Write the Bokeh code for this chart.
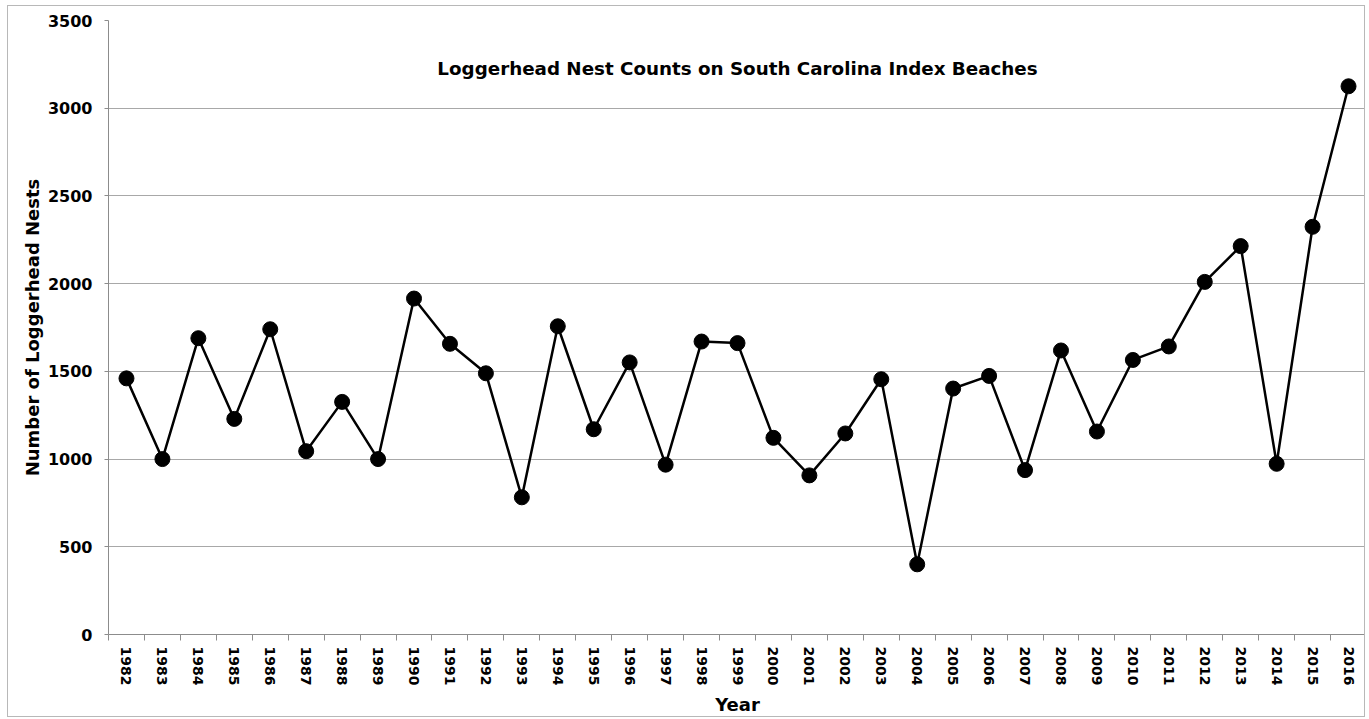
from bokeh.plotting import figure
from bokeh.models import Range1d, FixedTicker, Label, NumeralTickFormatter
from bokeh.embed import file_html
from bokeh.resources import INLINE

years = [1982, 1983, 1984, 1985, 1986, 1987, 1988, 1989, 1990, 1991, 1992, 1993,
         1994, 1995, 1996, 1997, 1998, 1999, 2000, 2001, 2002, 2003, 2004, 2005,
         2006, 2007, 2008, 2009, 2010, 2011, 2012, 2013, 2014, 2015, 2016]
nests = [1460, 1000, 1689, 1229, 1740, 1045, 1326, 1000, 1915, 1657, 1489, 782,
         1757, 1170, 1551, 968, 1670, 1661, 1121, 907, 1146, 1455, 400, 1402,
         1474, 937, 1619, 1157, 1565, 1642, 2010, 2214, 973, 2324, 3125]
y_ticks = [0, 500, 1000, 1500, 2000, 2500, 3000, 3500]

title_text = "Loggerhead Nest Counts on South Carolina Index Beaches"
x_title = "Year"
y_title = "Number of Loggerhead Nests"

FONT = "DejaVu Sans"
AXIS_COLOR = "#8c8c8c"
GRID_COLOR = "#a8a8a8"

p = figure(width=1358, height=712, output_backend="svg", toolbar_location=None,
           x_range=Range1d(years[0] - 0.5, years[-1] + 0.5),
           y_range=Range1d(y_ticks[0], y_ticks[-1]),
           min_border_left=100, min_border_right=0, min_border_top=14,
           min_border_bottom=82)
p.styles = {"border": "1px solid #b8b8b8", "margin-left": "7px", "margin-top": "5px"}
p.outline_line_color = None
p.background_fill_color = "white"
p.border_fill_color = "white"

# grids
p.xgrid.grid_line_color = None
p.ygrid.grid_line_color = GRID_COLOR
p.ygrid.grid_line_width = 1

# y axis
p.yaxis.ticker = FixedTicker(ticks=y_ticks)
p.yaxis.axis_line_color = AXIS_COLOR
p.yaxis.major_tick_line_color = AXIS_COLOR
p.yaxis.major_tick_out = 4
p.yaxis.major_tick_in = 0
p.yaxis.minor_tick_line_color = None
p.yaxis.major_label_standoff = 12
p.yaxis.major_label_text_font = FONT
p.yaxis.major_label_text_font_style = "bold"
p.yaxis.major_label_text_font_size = "16px"
p.yaxis.major_label_text_color = "black"
p.yaxis.axis_label = y_title
p.yaxis.axis_label_text_font = FONT
p.yaxis.axis_label_text_font_style = "bold"
p.yaxis.axis_label_text_font_size = "18px"
p.yaxis.axis_label_text_color = "black"
p.yaxis.axis_label_standoff = 2

# x axis: labels at years, ticks between years
boundaries = [y - 0.5 for y in years] + [years[-1] + 0.5]
p.xaxis.ticker = FixedTicker(ticks=years, minor_ticks=boundaries)
p.xaxis.formatter = NumeralTickFormatter(format="0")
p.xaxis.axis_line_color = AXIS_COLOR
p.xaxis.major_tick_line_color = None
p.xaxis.major_tick_out = 0
p.xaxis.major_tick_in = 0
p.xaxis.minor_tick_line_color = AXIS_COLOR
p.xaxis.minor_tick_out = 6
p.xaxis.minor_tick_in = 0
p.xaxis.major_label_orientation = "vertical"
p.xaxis.major_label_standoff = 6
p.xaxis.major_label_text_font = FONT
p.xaxis.major_label_text_font_style = "bold"
p.xaxis.major_label_text_font_size = "14px"
p.xaxis.major_label_text_color = "black"
p.xaxis.axis_label = x_title
p.xaxis.axis_label_text_font = FONT
p.xaxis.axis_label_text_font_style = "bold"
p.xaxis.axis_label_text_font_size = "18px"
p.xaxis.axis_label_text_color = "black"
p.xaxis.axis_label_standoff = 6

# data
p.line(years, nests, line_color="black", line_width=2.5)
p.scatter(years, nests, size=15, fill_color="black", line_color="black")

# title inside plot area
p.add_layout(Label(x=(years[0] + years[-1]) / 2, y=3227, text=title_text,
                   text_align="center", text_baseline="middle",
                   text_font=FONT, text_font_style="bold",
                   text_font_size="18.3px", text_color="black"))

open("out.html", "w").write(file_html(p, INLINE))
